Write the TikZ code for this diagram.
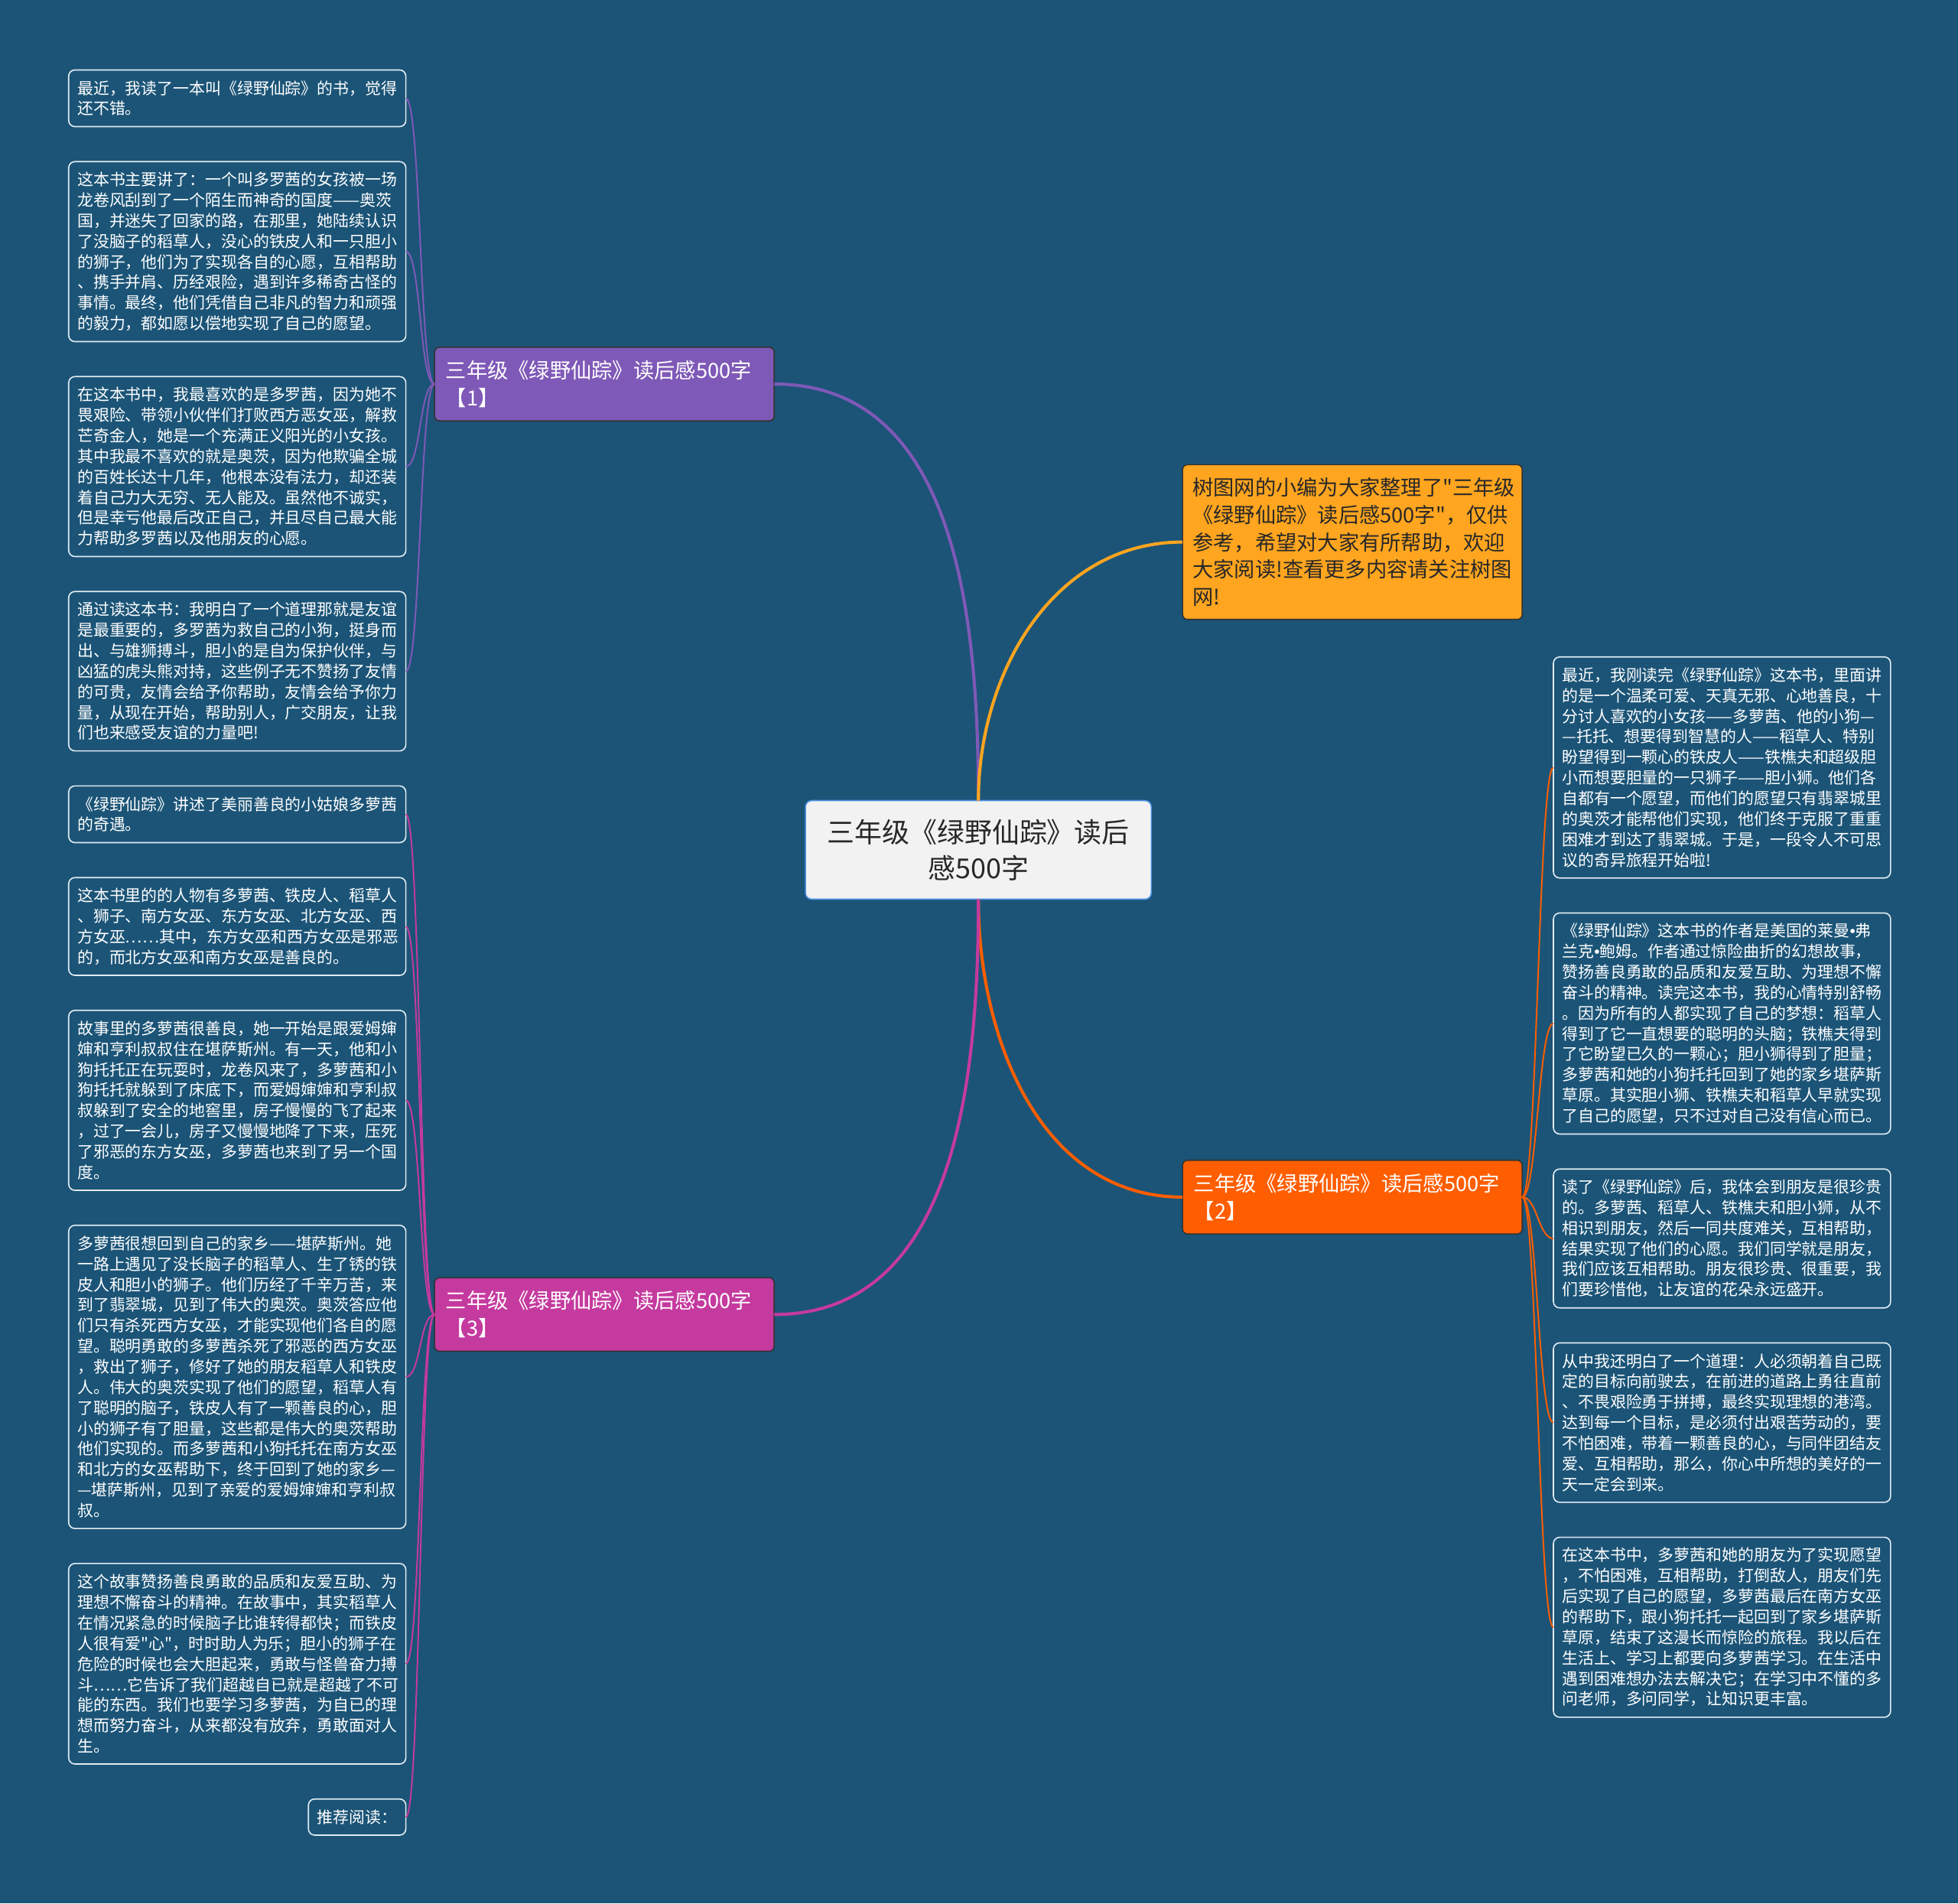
\documentclass[tikz,border=0pt]{standalone}
\usepackage{fontspec}
\setmainfont{Noto Sans CJK SC}[Ligatures=TeXOff]
\newfontfamily\dotfont{Liberation Sans}
\usepackage{tikz}
\usetikzlibrary{positioning}

\definecolor{mapbg}{RGB}{27,84,119}
\definecolor{rootfill}{RGB}{242,242,242}
\definecolor{rootline}{RGB}{74,144,226}
\definecolor{purplebr}{RGB}{127,89,183}
\definecolor{yellowbr}{RGB}{255,165,31}
\definecolor{orangebr}{RGB}{255,94,0}
\definecolor{magentabr}{RGB}{197,58,159}
\definecolor{leafline}{RGB}{225,235,242}
\definecolor{darktext}{RGB}{40,40,40}

\newcommand{\midbullet}{{\dotfont •}}

\begin{document}
\begin{tikzpicture}[
    x=1pt, y=-1pt,
    node distance=28pt,
    root/.style={
        draw=rootline,
        fill=rootfill,
        rounded corners=5pt,
        line width=1pt,
        align=center,
        text=darktext,
        font=\fontsize{22pt}{29pt}\selectfont,
        minimum width=277pt,
        minimum height=79pt,
        inner sep=4pt,
        outer sep=0pt
    },
    branch/.style={
        draw=black!80,
        fill=#1,
        rounded corners=4pt,
        line width=1pt,
        text width=254pt,
        align=left,
        text=white,
        font=\fontsize{16.7pt}{22pt}\selectfont,
        minimum height=59pt,
        inner xsep=9pt,
        inner ysep=3pt,
        outer sep=0pt,
        anchor=north west
    },
    tipbox/.style={
        branch=yellowbr,
        text=darktext,
        text width=256pt,
        inner xsep=8pt,
        font=\fontsize{16.7pt}{22pt}\selectfont,
        minimum height=124pt
    },
    leaf/.style={
        draw=leafline,
        fill=mapbg,
        rounded corners=5pt,
        line width=1pt,
        text width=256pt,
        align=left,
        text=white,
        font=\fontsize{12.8pt}{16.45pt}\selectfont,
        minimum height={#1*16.45pt+12.5pt},
        inner xsep=7pt,
        inner ysep=2pt,
        outer sep=0pt
    },
    limb/.style={draw=#1, line width=2.5pt},
    twig/.style={draw=#1, line width=1.2pt}
]

\fill[mapbg] (0,0) rectangle (1568,1524);

\node[root] (root) at (783.5,680.5) {三年级《绿野仙踪》读后\\感500字};

\node[branch=purplebr] (b1) at (348,278) {三年级《绿野仙踪》读后感500字\\【1】};
\node[tipbox] (tip) at (947,372) {树图网的小编为大家整理了"三年级\\《绿野仙踪》读后感500字"，仅供\\参考，希望对大家有所帮助，欢迎\\大家阅读!查看更多内容请关注树图\\网!};
\node[branch=orangebr] (b2) at (947,929) {三年级《绿野仙踪》读后感500字\\【2】};
\node[branch=magentabr] (b3) at (348,1023) {三年级《绿野仙踪》读后感500字\\【3】};

\node[leaf=2, anchor=north west] (l1) at (55,56) {最近，我读了一本叫《绿野仙踪》的书，觉得\\还不错。};
\node[leaf=8, below=of l1.south west, anchor=north west] (l2) {这本书主要讲了：一个叫多罗茜的女孩被一场\\龙卷风刮到了一个陌生而神奇的国度——奥茨\\国，并迷失了回家的路，在那里，她陆续认识\\了没脑子的稻草人，没心的铁皮人和一只胆小\\的狮子，他们为了实现各自的心愿，互相帮助\\、携手并肩、历经艰险，遇到许多稀奇古怪的\\事情。最终，他们凭借自己非凡的智力和顽强\\的毅力，都如愿以偿地实现了自己的愿望。};
\node[leaf=8, below=of l2.south west, anchor=north west] (l3) {在这本书中，我最喜欢的是多罗茜，因为她不\\畏艰险、带领小伙伴们打败西方恶女巫，解救\\芒奇金人，她是一个充满正义阳光的小女孩。\\其中我最不喜欢的就是奥茨，因为他欺骗全城\\的百姓长达十几年，他根本没有法力，却还装\\着自己力大无穷、无人能及。虽然他不诚实，\\但是幸亏他最后改正自己，并且尽自己最大能\\力帮助多罗茜以及他朋友的心愿。};
\node[leaf=7, below=of l3.south west, anchor=north west] (l4) {通过读这本书：我明白了一个道理那就是友谊\\是最重要的，多罗茜为救自己的小狗，挺身而\\出、与雄狮搏斗，胆小的是自为保护伙伴，与\\凶猛的虎头熊对持，这些例子无不赞扬了友情\\的可贵，友情会给予你帮助，友情会给予你力\\量，从现在开始，帮助别人，广交朋友，让我\\们也来感受友谊的力量吧!};
\node[leaf=2, below=of l4.south west, anchor=north west] (l5) {《绿野仙踪》讲述了美丽善良的小姑娘多萝茜\\的奇遇。};
\node[leaf=4, below=of l5.south west, anchor=north west] (l6) {这本书里的的人物有多萝茜、铁皮人、稻草人\\、狮子、南方女巫、东方女巫、北方女巫、西\\方女巫……其中，东方女巫和西方女巫是邪恶\\的，而北方女巫和南方女巫是善良的。};
\node[leaf=8, below=of l6.south west, anchor=north west] (l7) {故事里的多萝茜很善良，她一开始是跟爱姆婶\\婶和亨利叔叔住在堪萨斯州。有一天，他和小\\狗托托正在玩耍时，龙卷风来了，多萝茜和小\\狗托托就躲到了床底下，而爱姆婶婶和亨利叔\\叔躲到了安全的地窖里，房子慢慢的飞了起来\\，过了一会儿，房子又慢慢地降了下来，压死\\了邪恶的东方女巫，多萝茜也来到了另一个国\\度。};
\node[leaf=14, below=of l7.south west, anchor=north west] (l8) {多萝茜很想回到自己的家乡——堪萨斯州。她\\一路上遇见了没长脑子的稻草人、生了锈的铁\\皮人和胆小的狮子。他们历经了千辛万苦，来\\到了翡翠城，见到了伟大的奥茨。奥茨答应他\\们只有杀死西方女巫，才能实现他们各自的愿\\望。聪明勇敢的多萝茜杀死了邪恶的西方女巫\\，救出了狮子，修好了她的朋友稻草人和铁皮\\人。伟大的奥茨实现了他们的愿望，稻草人有\\了聪明的脑子，铁皮人有了一颗善良的心，胆\\小的狮子有了胆量，这些都是伟大的奥茨帮助\\他们实现的。而多萝茜和小狗托托在南方女巫\\和北方的女巫帮助下，终于回到了她的家乡—\\—堪萨斯州，见到了亲爱的爱姆婶婶和亨利叔\\叔。};
\node[leaf=9, below=of l8.south west, anchor=north west] (l9) {这个故事赞扬善良勇敢的品质和友爱互助、为\\理想不懈奋斗的精神。在故事中，其实稻草人\\在情况紧急的时候脑子比谁转得都快；而铁皮\\人很有爱"心"，时时助人为乐；胆小的狮子在\\危险的时候也会大胆起来，勇敢与怪兽奋力搏\\斗……它告诉了我们超越自已就是超越了不可\\能的东西。我们也要学习多萝茜，为自已的理\\想而努力奋斗，从来都没有放弃，勇敢面对人\\生。};
\node[leaf=1, text width=64pt, below=of l9.south east, anchor=north east] (l10) {推荐阅读：};

\node[leaf=10, anchor=north west] (r1) at (1244,526) {最近，我刚读完《绿野仙踪》这本书，里面讲\\的是一个温柔可爱、天真无邪、心地善良，十\\分讨人喜欢的小女孩——多萝茜、他的小狗—\\—托托、想要得到智慧的人——稻草人、特别\\盼望得到一颗心的铁皮人——铁樵夫和超级胆\\小而想要胆量的一只狮子——胆小狮。他们各\\自都有一个愿望，而他们的愿望只有翡翠城里\\的奥茨才能帮他们实现，他们终于克服了重重\\困难才到达了翡翠城。于是，一段令人不可思\\议的奇异旅程开始啦!};
\node[leaf=10, below=of r1.south west, anchor=north west] (r2) {《绿野仙踪》这本书的作者是美国的莱曼\midbullet 弗\\兰克\midbullet 鲍姆。作者通过惊险曲折的幻想故事，\\赞扬善良勇敢的品质和友爱互助、为理想不懈\\奋斗的精神。读完这本书，我的心情特别舒畅\\。因为所有的人都实现了自己的梦想：稻草人\\得到了它一直想要的聪明的头脑；铁樵夫得到\\了它盼望已久的一颗心；胆小狮得到了胆量；\\多萝茜和她的小狗托托回到了她的家乡堪萨斯\\草原。其实胆小狮、铁樵夫和稻草人早就实现\\了自己的愿望，只不过对自己没有信心而已。};
\node[leaf=6, below=of r2.south west, anchor=north west] (r3) {读了《绿野仙踪》后，我体会到朋友是很珍贵\\的。多萝茜、稻草人、铁樵夫和胆小狮，从不\\相识到朋友，然后一同共度难关，互相帮助，\\结果实现了他们的心愿。我们同学就是朋友，\\我们应该互相帮助。朋友很珍贵、很重要，我\\们要珍惜他，让友谊的花朵永远盛开。};
\node[leaf=7, below=of r3.south west, anchor=north west] (r4) {从中我还明白了一个道理：人必须朝着自己既\\定的目标向前驶去，在前进的道路上勇往直前\\、不畏艰险勇于拼搏，最终实现理想的港湾。\\达到每一个目标，是必须付出艰苦劳动的，要\\不怕困难，带着一颗善良的心，与同伴团结友\\爱、互相帮助，那么，你心中所想的美好的一\\天一定会到来。};
\node[leaf=8, below=of r4.south west, anchor=north west] (r5) {在这本书中，多萝茜和她的朋友为了实现愿望\\，不怕困难，互相帮助，打倒敌人，朋友们先\\后实现了自己的愿望，多萝茜最后在南方女巫\\的帮助下，跟小狗托托一起回到了家乡堪萨斯\\草原，结束了这漫长而惊险的旅程。我以后在\\生活上、学习上都要向多萝茜学习。在生活中\\遇到困难想办法去解决它；在学习中不懂的多\\问老师，多问同学，让知识更丰富。};

\draw[limb=purplebr] (root.north) .. controls +(0,-146) and +(146,0) .. (b1.east);
\draw[limb=yellowbr] (root.north) .. controls +(0,-103) and +(-103,0) .. (tip.west);
\draw[limb=orangebr] (root.south) .. controls +(0,113) and +(-113,0) .. (b2.west);
\draw[limb=magentabr] (root.south) .. controls +(0,145) and +(145,0) .. (b3.east);

\foreach \k in {1,...,4}
    \draw[twig=purplebr] (b1.west) .. controls +(-12,0) and +(12,0) .. (l\k.east);
\foreach \k in {5,...,10}
    \draw[twig=magentabr] (b3.west) .. controls +(-12,0) and +(12,0) .. (l\k.east);
\foreach \k in {1,...,5}
    \draw[twig=orangebr] (b2.east) .. controls +(12,0) and +(-12,0) .. (r\k.west);

\end{tikzpicture}
\end{document}
